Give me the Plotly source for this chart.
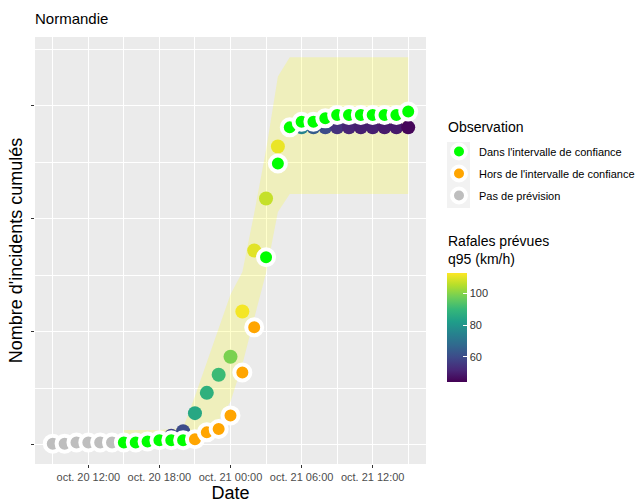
import plotly.graph_objects as go
import pandas as pd

# observations, hourly from oct 20 09:00 to oct 21 15:00
obs_times = pd.date_range("2023-10-20 09:00", periods=31, freq="h")
obs_values = [1, 1, 2, 2, 2, 2,
              2, 2, 3, 4, 4, 4,
              5, 11, 14, 26, 64, 104,
              166, 249, 281, 286, 286, 289, 292, 292, 292, 292, 292, 292, 295]
obs_status = (["Pas de prévision"] * 6
              + ["Dans l'intervalle de confiance"] * 6
              + ["Hors de l'intervalle de confiance"] * 6
              + ["Dans l'intervalle de confiance"] * 13)

# forecasts, hourly from oct 20 15:00
fc_times = pd.date_range("2023-10-20 15:00", periods=25, freq="h")
fc_values = [3, 4, 4, 6, 8, 12,
             28, 46, 62, 78, 118, 172,
             218, 264, 281, 281, 281, 281, 281, 281, 281, 281, 281, 281, 281]
fc_lower = [1, 1, 1, 1, 1, 2,
            8, 15, 22, 38, 71, 112,
            152, 206, 222, 222, 222, 222, 222, 222, 222, 222, 222, 222, 222]
fc_upper = [13, 13, 13, 13, 14, 15,
            43, 73, 103, 133, 153, 205,
            261, 326, 343, 343, 343, 343, 343, 343, 343, 343, 343, 343, 343]
fc_gust = [50, 52, 55, 57, 58, 60,
           85, 88, 91, 99, 112, 110,
           107, 111, 85, 75, 64, 60, 54, 51, 50, 50, 49, 49, 45]

status_colors = {
    "Dans l'intervalle de confiance": "#00FF00",
    "Hors de l'intervalle de confiance": "#FFA500",
    "Pas de prévision": "#BEBEBE",
}

xtick_vals = ["2023-10-20 12:00", "2023-10-20 18:00", "2023-10-21 00:00",
              "2023-10-21 06:00", "2023-10-21 12:00"]
xtick_text = ["oct. 20 12:00", "oct. 20 18:00", "oct. 21 00:00",
              "oct. 21 06:00", "oct. 21 12:00"]
xminor_vals = ["2023-10-20 09:00", "2023-10-20 15:00", "2023-10-20 21:00",
               "2023-10-21 03:00", "2023-10-21 09:00", "2023-10-21 15:00"]

FONT = "Liberation Sans, Arial, sans-serif"
W, H = 640, 503
L, R, T, B = 35, 214, 37, 39
PW, PH = W - L - R, H - T - B


def px_x(p):  # pixel -> paper x
    return (p - L) / PW


def px_y(p):  # pixel -> paper y
    return (H - B - p) / PH


fig = go.Figure()

# confidence band
fig.add_trace(go.Scatter(x=fc_times, y=fc_lower, mode="lines",
                         line=dict(width=0), showlegend=False, hoverinfo="skip"))
fig.add_trace(go.Scatter(x=fc_times, y=fc_upper, mode="lines",
                         line=dict(width=0), fill="tonexty",
                         fillcolor="rgba(255,255,0,0.2)",
                         showlegend=False, hoverinfo="skip"))

# forecast points coloured by gusts
fig.add_trace(go.Scatter(
    x=fc_times, y=fc_values, mode="markers", showlegend=False,
    marker=dict(
        size=14, color=fc_gust, colorscale="Viridis", cmin=44, cmax=113,
        line=dict(width=0),
        colorbar=dict(
            tickvals=[60, 80, 100],
            ticks="inside", ticklen=4, tickcolor="white",
            tickfont=dict(size=11, color="#333333"),
            thickness=20, thicknessmode="pixels",
            len=109, lenmode="pixels",
            x=px_x(447), xanchor="left", xpad=0,
            y=px_y(382), yanchor="bottom", ypad=0,
            outlinewidth=0,
        ),
    ),
))

# observations
fig.add_trace(go.Scatter(
    x=obs_times, y=obs_values, mode="markers", showlegend=False,
    marker=dict(size=16, color=[status_colors[s] for s in obs_status],
                line=dict(color="white", width=4)),
))

# legend entries
for name, col in status_colors.items():
    fig.add_trace(go.Scatter(
        x=[None], y=[None], mode="markers", name=name, legendgroup=name,
        marker=dict(size=14, color=col, line=dict(color="white", width=4)),
    ))

fig.update_layout(
    width=W, height=H,
    margin=dict(l=L, r=R, t=T, b=B, autoexpand=False),
    paper_bgcolor="white", plot_bgcolor="#EBEBEB",
    font=dict(family=FONT, color="black"),
    title=dict(text="Normandie", x=L / W, xanchor="left",
               yref="container", y=1 - 19 / H, yanchor="middle",
               font=dict(size=15, color="black")),
    legend=dict(
        font=dict(size=11),
        traceorder="grouped", tracegroupgap=3,
        x=px_x(439), xanchor="left", y=px_y(137), yanchor="top",
        bgcolor="rgba(0,0,0,0)",
    ),
    annotations=[
        dict(text="Observation", x=px_x(446), y=px_y(127), xref="paper", yref="paper",
             xanchor="left", yanchor="middle", showarrow=False,
             font=dict(size=14, color="black")),
        dict(text="Rafales prévues<br>q95 (km/h)", x=px_x(446), y=px_y(269),
             xref="paper", yref="paper", xanchor="left", yanchor="bottom",
             align="left", showarrow=False, font=dict(size=14, color="black")),
    ],
    shapes=[
        dict(type="rect", xref="paper", yref="paper",
             x0=px_x(447), x1=px_x(470), y0=px_y(208), y1=px_y(142),
             fillcolor="#F2F2F2", line=dict(width=0), layer="below"),
    ],
)

fig.update_xaxes(
    range=["2023-10-20 07:30", "2023-10-21 16:30"],
    tickvals=xtick_vals, ticktext=xtick_text,
    tickfont=dict(size=11, color="#4D4D4D"),
    ticks="outside", ticklen=3, tickcolor="#333333",
    showgrid=True, gridcolor="white", gridwidth=1.1,
    minor=dict(tickvals=xminor_vals, showgrid=True, gridcolor="white",
               gridwidth=0.5, ticks=""),
    zeroline=False, showline=False, automargin=False,
    title=dict(text="Date", font=dict(size=18), standoff=3),
)
fig.update_yaxes(
    range=[-17, 361],
    tickvals=[0, 100, 200, 300], showticklabels=False,
    ticks="outside", ticklen=3, tickcolor="#333333",
    showgrid=True, gridcolor="white", gridwidth=1.1,
    minor=dict(tickvals=[50, 150, 250, 350], showgrid=True, gridcolor="white",
               gridwidth=0.5, ticks=""),
    zeroline=False, showline=False, automargin=False,
    title=dict(text="Nombre d'incidents cumulés", font=dict(size=18), standoff=3),
)

# drop the default page margin so the figure fills the window
fig.write_html("out.html", config=dict(displayModeBar=False),
               post_script="document.body.style.margin = '0';")
